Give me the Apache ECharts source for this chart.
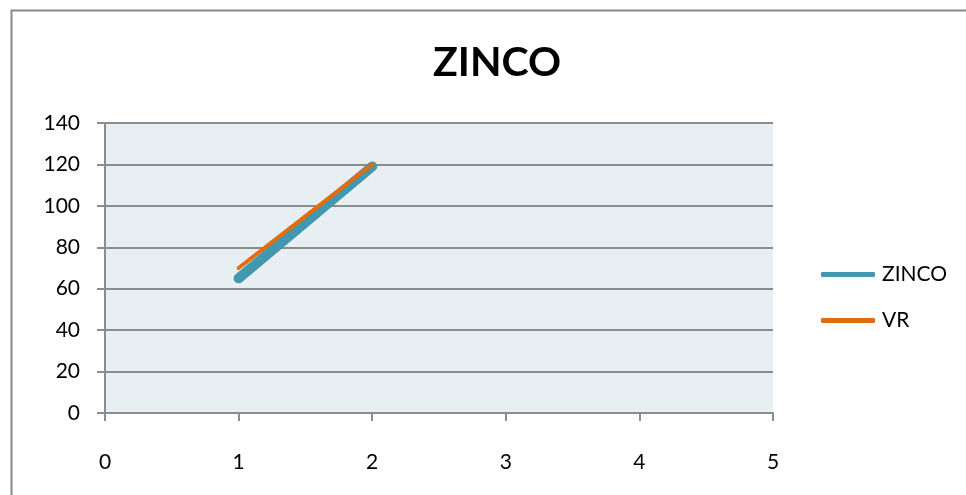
<!DOCTYPE html>
<html>
<head>
<meta charset="utf-8">
<script src="https://cdn.jsdelivr.net/npm/echarts@6/dist/echarts.min.js"></script>
<style>
  html, body { margin: 0; padding: 0; background: #ffffff; }
  #chart { width: 966px; height: 495px; }
</style>
</head>
<body>
<div id="chart"></div>
<script>
// Series data: [x, y] pairs
const seriesNames = ['ZINCO', 'VR'];
const zincoX = [1, 2];
const zincoY = [65, 119];
const vrX = [1, 2];
const vrY = [70, 120];
const xTicks = [0, 1, 2, 3, 4, 5];
const yTicks = [0, 20, 40, 60, 80, 100, 120, 140];

const zincoData = zincoX.map((x, i) => [x, zincoY[i]]);
const vrData = vrX.map((x, i) => [x, vrY[i]]);

const FONT = 'Lato, "Open Sans", sans-serif';
const chart = echarts.init(document.getElementById('chart'), null, { renderer: 'canvas' });

chart.setOption({
  backgroundColor: '#ffffff',
  animation: false,
  title: {
    text: 'ZINCO',
    left: 492,
    top: 37,
    textAlign: 'center',
    textStyle: { fontFamily: FONT, fontWeight: 'bold', fontSize: 41, color: '#000000' }
  },
  graphic: [{
    type: 'rect',
    shape: { x: 11.5, y: 10.5, width: 1000, height: 600 },
    style: { fill: 'none', stroke: '#888888', lineWidth: 2 },
    silent: true
  }],
  legend: {
    orient: 'vertical',
    left: 821,
    top: 264,
    padding: 0,
    itemGap: 25,
    itemWidth: 54,
    itemHeight: 5,
    icon: 'roundRect',
    textStyle: { fontFamily: FONT, fontSize: 21, color: '#000000', padding: [0, 0, 0, 2] },
    data: seriesNames
  },
  grid: { left: 105, right: 193, top: 123, bottom: 82, show: true, backgroundColor: '#e8eff3', borderWidth: 0 },
  xAxis: {
    type: 'value',
    min: xTicks[0],
    max: xTicks[xTicks.length - 1],
    interval: 1,
    axisLine: { show: true, lineStyle: { color: '#8c8c8c', width: 2 } },
    axisTick: { show: true, length: 8, inside: false, lineStyle: { color: '#8c8c8c', width: 2 } },
    axisLabel: { fontFamily: FONT, fontSize: 21, color: '#000000', margin: 39 },
    splitLine: { show: false }
  },
  yAxis: {
    type: 'value',
    min: yTicks[0],
    max: yTicks[yTicks.length - 1],
    interval: 20,
    axisLine: { show: true, lineStyle: { color: '#8c8c8c', width: 2 } },
    axisTick: { show: true, length: 8, lineStyle: { color: '#8c8c8c', width: 2 } },
    axisLabel: { fontFamily: FONT, fontSize: 21, color: '#000000', margin: 25 },
    splitLine: { show: true, lineStyle: { color: '#8c8c8c', width: 2 } }
  },
  series: [
    {
      name: 'ZINCO',
      type: 'line',
      data: zincoData,
      symbol: 'none',
      color: '#4198af',
      lineStyle: { color: '#4198af', width: 10, cap: 'round' },
      z: 2
    },
    {
      name: 'VR',
      type: 'line',
      data: vrData,
      symbol: 'none',
      color: '#e46c0a',
      lineStyle: { color: '#e46c0a', width: 4, cap: 'round' },
      z: 3
    }
  ]
});
</script>
</body>
</html>
